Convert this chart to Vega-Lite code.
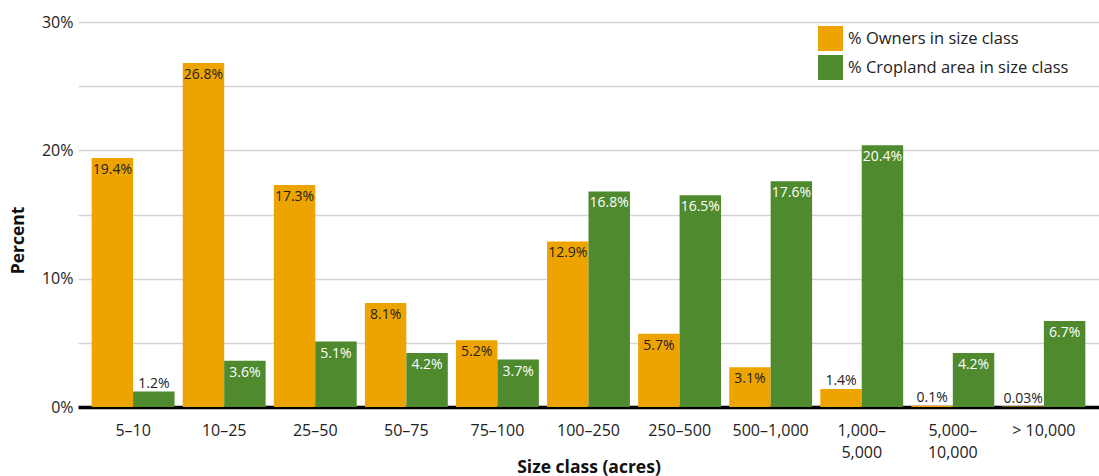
{
  "$schema": "https://vega.github.io/schema/vega-lite/v6.json",
  "width": 1021,
  "height": 385,
  "autosize": "none",
  "padding": {"left": 78, "top": 22, "right": 0, "bottom": 69},
  "background": "white",
  "config": {"font": "Open Sans", "view": {"stroke": null}},
  "data": {
    "values": [
      {"cls": "5–10", "series": "% Owners in size class", "value": 19.4, "label": "19.4%"},
      {"cls": "10–25", "series": "% Owners in size class", "value": 26.8, "label": "26.8%"},
      {"cls": "25–50", "series": "% Owners in size class", "value": 17.3, "label": "17.3%"},
      {"cls": "50–75", "series": "% Owners in size class", "value": 8.1, "label": "8.1%"},
      {"cls": "75–100", "series": "% Owners in size class", "value": 5.2, "label": "5.2%"},
      {"cls": "100–250", "series": "% Owners in size class", "value": 12.9, "label": "12.9%"},
      {"cls": "250–500", "series": "% Owners in size class", "value": 5.7, "label": "5.7%"},
      {"cls": "500–1,000", "series": "% Owners in size class", "value": 3.1, "label": "3.1%"},
      {"cls": "1,000–5,000", "series": "% Owners in size class", "value": 1.4, "label": "1.4%"},
      {"cls": "5,000–10,000", "series": "% Owners in size class", "value": 0.1, "label": "0.1%"},
      {"cls": "> 10,000", "series": "% Owners in size class", "value": 0.03, "label": "0.03%"},
      {"cls": "5–10", "series": "% Cropland area in size class", "value": 1.2, "label": "1.2%"},
      {"cls": "10–25", "series": "% Cropland area in size class", "value": 3.6, "label": "3.6%"},
      {"cls": "25–50", "series": "% Cropland area in size class", "value": 5.1, "label": "5.1%"},
      {"cls": "50–75", "series": "% Cropland area in size class", "value": 4.2, "label": "4.2%"},
      {"cls": "75–100", "series": "% Cropland area in size class", "value": 3.7, "label": "3.7%"},
      {"cls": "100–250", "series": "% Cropland area in size class", "value": 16.8, "label": "16.8%"},
      {"cls": "250–500", "series": "% Cropland area in size class", "value": 16.5, "label": "16.5%"},
      {"cls": "500–1,000", "series": "% Cropland area in size class", "value": 17.6, "label": "17.6%"},
      {"cls": "1,000–5,000", "series": "% Cropland area in size class", "value": 20.4, "label": "20.4%"},
      {"cls": "5,000–10,000", "series": "% Cropland area in size class", "value": 4.2, "label": "4.2%"},
      {"cls": "> 10,000", "series": "% Cropland area in size class", "value": 6.7, "label": "6.7%"}
    ]
  },
  "encoding": {
    "x": {
      "field": "cls", "type": "nominal", "sort": null,
      "scale": {"paddingInner": 0.09, "paddingOuter": 0.15},
      "axis": {
        "title": "Size class (acres)",
        "titleFontSize": 17.5, "titleFontWeight": "bold", "titleColor": "#111",
        "titleY": 65, "titleBaseline": "alphabetic",
        "labelAngle": 0, "labelFontSize": 16, "labelColor": "#222",
        "labelPadding": 15, "labelLineHeight": 22,
        "labelExpr": "datum.value == '1,000–5,000' ? ['1,000–', '5,000'] : datum.value == '5,000–10,000' ? ['5,000–', '10,000'] : datum.label",
        "ticks": false, "domainColor": "#000", "domainWidth": 3.5, "domainCap": "butt"
      }
    },
    "xOffset": {"field": "series", "type": "nominal", "sort": ["% Owners in size class", "% Cropland area in size class"], "scale": {"paddingInner": 0}},
    "y": {
      "field": "value", "type": "quantitative",
      "scale": {"domain": [0, 30], "nice": false},
      "axis": {
        "title": "Percent", "titleFontSize": 17.5, "titleFontWeight": "bold", "titleColor": "#111",
        "titleX": -60, "titleY": 218, "titleAlign": "center", "titleBaseline": "middle", "titleAngle": -90,
        "values": [0, 5, 10, 15, 20, 25, 30],
        "labelExpr": "datum.value % 10 == 0 ? datum.value + '%' : ''",
        "labelFontSize": 16, "labelColor": "#222", "labelPadding": 5,
        "grid": true, "gridColor": "#d3d3d3", "gridWidth": 1.5,
        "ticks": false, "domain": false
      }
    }
  },
  "layer": [
    {
      "mark": {"type": "bar"},
      "encoding": {
        "color": {
          "field": "series", "type": "nominal",
          "scale": {"domain": ["% Owners in size class", "% Cropland area in size class"], "range": ["#EEA400", "#4F8A2F"]},
          "legend": {
            "orient": "none", "legendX": 740, "legendY": 4, "title": null,
            "symbolType": "square", "symbolSize": 625, "symbolStrokeWidth": 0,
            "labelFontSize": 16.5, "labelColor": "#222", "labelOffset": 5, "rowPadding": 4,
            "labelLimit": 400
          }
        }
      }
    },
    {
      "transform": [{"filter": "datum.value >= 2"}],
      "mark": {"type": "text", "baseline": "top", "dy": 5, "fontSize": 14},
      "encoding": {
        "text": {"field": "label"},
        "color": {"condition": {"test": "datum.series == '% Cropland area in size class'", "value": "white"}, "value": "#222"}
      }
    },
    {
      "transform": [{"filter": "datum.value < 2"}],
      "mark": {"type": "text", "baseline": "alphabetic", "dy": -4, "fontSize": 14, "color": "#222"},
      "encoding": {"text": {"field": "label"}}
    }
  ]
}
